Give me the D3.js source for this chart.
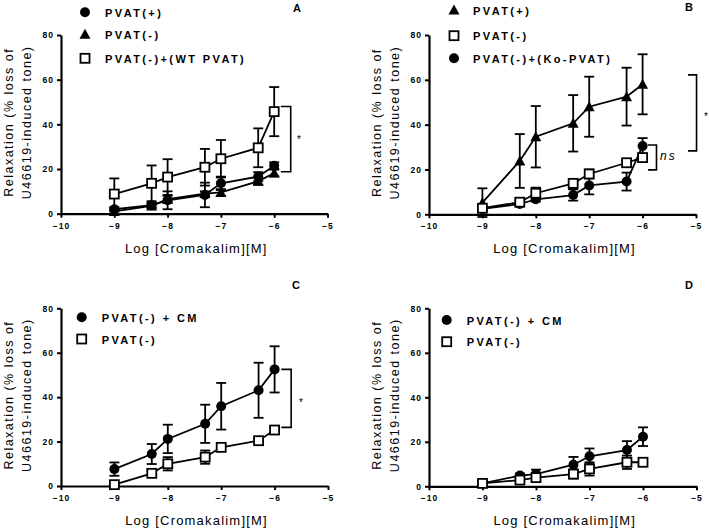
<!DOCTYPE html>
<html><head><meta charset="utf-8">
<script src="https://cdn.jsdelivr.net/npm/d3@7"></script>
<style>
body{margin:0;background:#fff;}
svg{display:block;}
text{font-family:"Liberation Sans",Arial,sans-serif;fill:#000;}
</style></head>
<body>
<svg id="chart" width="709" height="531"></svg>
<script>
// ---- data ----
const logConc = [-9, -8.3, -8, -7.3, -7, -6.3, -6];
const xTicks = [-10, -9, -8, -7, -6, -5];
const yTicks = [0, 20, 40, 60, 80];

const aPvatPlus = [2.0, 3.8, 6.0, 8.4, 13.6, 16.6, 21.5];
const aPvatPlusErr = [1.0, 1.0, 4.0, 5.5, 3.0, 2.0, 1.5];
const aPvatMinus = [1.0, 3.5, 6.5, 9.0, 9.5, 14.5, 18.2];
const aPvatMinusErr = [1.0, 1.0, 1.5, 1.0, 1.5, 1.5, 1.5];
const aWtPvat = [8.8, 13.6, 16.4, 20.8, 24.6, 29.5, 45.7];
const aWtPvatErr = [7.0, 8.0, 8.0, 8.2, 8.4, 8.7, 11.0];

const bPvatPlus = [5.2, 23.8, 34.6, 40.6, 48.0, 52.5, 58.0];
const bPvatPlusErr = [6.4, 12.0, 13.7, 12.6, 13.4, 12.9, 13.4];
const bPvatMinus = [2.7, 5.4, 9.4, 13.8, 18.0, 23.0, 25.3];
const bPvatMinusErr = [0.8, 1.0, 2.5, 2.0, 2.0, 1.0, 1.5];
const bKoPvat = [2.4, 4.6, 6.7, 8.6, 12.9, 14.6, 30.5];
const bKoPvatErr = [0.8, 1.0, 1.0, 2.5, 4.0, 4.0, 3.5];

const cCm = [7.6, 14.4, 21.2, 28.0, 35.9, 43.1, 52.5];
const cCmErr = [3.0, 4.5, 6.4, 8.6, 10.5, 12.4, 10.4];
const cPvatMinus = [0.6, 5.7, 10.0, 13.0, 17.4, 20.4, 25.2];
const cPvatMinusErr = [0.8, 1.0, 3.0, 3.0, 1.5, 1.0, 1.0];

const dCm = [1.3, 4.8, 5.5, 9.7, 13.5, 16.3, 22.3];
const dCmErr = [1.0, 1.0, 2.0, 3.5, 3.5, 4.0, 4.2];
const dPvatMinus = [1.3, 2.8, 3.9, 5.5, 7.8, 10.8, 10.8];
const dPvatMinusErr = [1.0, 1.0, 1.0, 2.0, 3.0, 3.0, 0.5];

// ---- panels (layout) ----
const panels = [
  {label:"A", lx:293, ly:12, px:[61,327.5], py:[213.7,35],
   series:[
     {name:"PVAT(+)", sym:"circle", v:aPvatPlus, e:aPvatPlusErr},
     {name:"PVAT(-)", sym:"triangle", v:aPvatMinus, e:aPvatMinusErr},
     {name:"PVAT(-)+(WT PVAT)", sym:"square", v:aWtPvat, e:aWtPvatErr}],
   order:[1,0,2],
   legend:{mx:85, tx:105, ys:[12.3,34.3,58.3]},
   brackets:[{x:-5.69, x2:-5.875, top:48, bot:18.8, text:"*", italic:false, tx:297, ty:143}]},
  {label:"B", lx:685, ly:11, px:[429,696], py:[214.3,35],
   series:[
     {name:"PVAT(+)", sym:"triangle", v:bPvatPlus, e:bPvatPlusErr},
     {name:"PVAT(-)", sym:"square", v:bPvatMinus, e:bPvatMinusErr},
     {name:"PVAT(-)+(Ko-PVAT)", sym:"circle", v:bKoPvat, e:bKoPvatErr}],
   order:[0,2,1],
   legend:{mx:454, tx:473, ys:[10,35.7,58.3]},
   brackets:[{x:-4.99, x2:-5.15, top:62.2, bot:28.3, text:"*", italic:false, tx:704, ty:120},
             {x:-5.74, x2:-5.9, top:30.9, bot:19.8, text:"ns", italic:true, tx:660, ty:160}]},
  {label:"C", lx:292, ly:289, px:[61,328], py:[486,308.3],
   series:[
     {name:"PVAT(-) + CM", sym:"circle", v:cCm, e:cCmErr},
     {name:"PVAT(-)", sym:"square", v:cPvatMinus, e:cPvatMinusErr}],
   order:[0,1],
   legend:{mx:81.7, tx:101.7, ys:[317.3,339]},
   brackets:[{x:-5.69, x2:-5.875, top:52.5, bot:26.4, text:"*", italic:false, tx:299, ty:406}]},
  {label:"D", lx:685, ly:289, px:[429,696.5], py:[486.3,308.3],
   series:[
     {name:"PVAT(-) + CM", sym:"circle", v:dCm, e:dCmErr},
     {name:"PVAT(-)", sym:"square", v:dPvatMinus, e:dPvatMinusErr}],
   order:[0,1],
   legend:{mx:446.7, tx:466.7, ys:[320,341.7]},
   brackets:[]}
];

const svg = d3.select("#chart");

function drawSymbol(g, sym, cx, cy){
  if(sym==="circle"){
    g.append("circle").attr("cx",cx).attr("cy",cy).attr("r",5).attr("fill","#000");
  } else if(sym==="square"){
    g.append("rect").attr("x",cx-4.5).attr("y",cy-4.5).attr("width",9).attr("height",9)
      .attr("fill","#fff").attr("stroke","#000").attr("stroke-width",1.8);
  } else {
    g.append("path").attr("d",`M${cx},${cy-5.5}L${cx+5.5},${cy+4.5}L${cx-5.5},${cy+4.5}Z`).attr("fill","#000");
  }
}

panels.forEach(p=>{
  const x = d3.scaleLinear().domain([-10,-5]).range(p.px);
  const y = d3.scaleLinear().domain([0,80]).range(p.py);
  const g = svg.append("g");

  // axes
  const xa = g.append("g").attr("transform",`translate(0,${p.py[0]})`)
    .call(d3.axisBottom(x).tickValues(xTicks).tickSize(4).tickSizeOuter(0).tickFormat(d3.format("d")));
  const ya = g.append("g").attr("transform",`translate(${p.px[0]},0)`)
    .call(d3.axisLeft(y).tickValues(yTicks).tickSize(4).tickSizeOuter(0));
  [xa,ya].forEach(a=>{
    a.select(".domain").attr("stroke","#000").attr("stroke-width",2.2);
    a.selectAll(".tick line").attr("stroke","#000").attr("stroke-width",2);
    a.selectAll(".tick text").attr("font-size",8.5).attr("font-weight","bold")
      .style("letter-spacing","1px").attr("fill","#000")
      .attr("font-family","'Liberation Sans',Arial,sans-serif");
  });
  xa.selectAll(".tick text").attr("y",9);
  ya.selectAll(".tick text").attr("x",-7);

  // axis titles
  const midY = (p.py[0]+p.py[1])/2 - 2;
  const tx = p.px[0]-48;
  const yt = g.append("text").attr("transform",`translate(${tx},${midY}) rotate(-90)`)
    .attr("text-anchor","middle").attr("font-size",12.5).style("letter-spacing","1.5px").attr("fill","#222");
  yt.append("tspan").attr("x",0).attr("dy",0).text("Relaxation (% loss of");
  yt.append("tspan").attr("x",0).attr("dy",18).text("U46619-induced tone)");
  g.append("text").attr("x",x(-7.5)+2).attr("y",p.py[0]+39).attr("text-anchor","middle")
    .attr("font-size",13).style("letter-spacing","1.2px").attr("fill","#222").text("Log [Cromakalim][M]");

  // panel letter
  g.append("text").attr("x",p.lx).attr("y",p.ly).attr("font-size",11).attr("font-weight","bold").text(p.label);

  // series
  const line = d3.line().x((d,i)=>x(logConc[i])).y(d=>y(d));
  p.order.forEach(si=>{
    const s = p.series[si];
    const sg = g.append("g");
    sg.append("path").attr("d",line(s.v)).attr("fill","none").attr("stroke","#000").attr("stroke-width",1.8);
    s.v.forEach((v,i)=>{
      const cx = x(logConc[i]);
      const e = s.e[i];
      sg.append("line").attr("x1",cx).attr("x2",cx).attr("y1",y(v-e)).attr("y2",y(v+e))
        .attr("stroke","#000").attr("stroke-width",1.8);
      [v-e, v+e].forEach(w=>{
        sg.append("line").attr("x1",cx-5).attr("x2",cx+5).attr("y1",y(w)).attr("y2",y(w))
          .attr("stroke","#000").attr("stroke-width",1.8);
      });
    });
    s.v.forEach((v,i)=>drawSymbol(sg, s.sym, x(logConc[i]), y(v)));
  });

  // legend
  p.series.forEach((s,i)=>{
    drawSymbol(g, s.sym, p.legend.mx, p.legend.ys[i]);
    g.append("text").attr("x",p.legend.tx).attr("y",p.legend.ys[i]+4.5)
      .attr("font-size",11).attr("font-weight","bold").style("letter-spacing","2.4px").text(s.name);
  });

  // significance brackets
  p.brackets.forEach(b=>{
    const bx = x(b.x), bx2 = x(b.x2);
    g.append("path").attr("d",`M${bx2},${y(b.top)}H${bx}V${y(b.bot)}H${bx2}`)
      .attr("fill","none").attr("stroke","#000").attr("stroke-width",1.6);
    g.append("text").attr("x",b.tx).attr("y",b.ty).attr("font-size",b.italic?12:10)
      .attr("fill","#000")
      .attr("font-style",b.italic?"italic":"normal").style("letter-spacing",b.italic?"2px":"0")
      .text(b.text);
  });
});
</script>
</body></html>
